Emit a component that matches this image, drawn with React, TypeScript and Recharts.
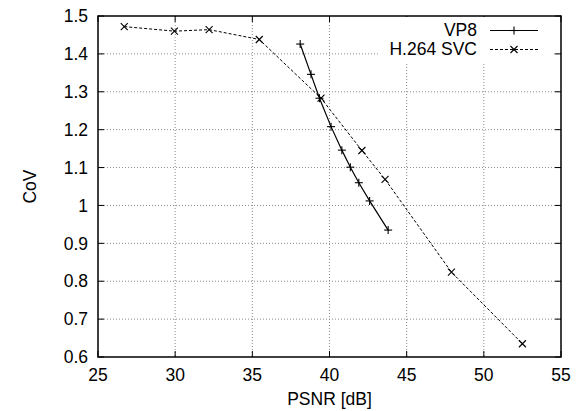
import { Line, LineChart, XAxis, YAxis } from 'recharts';

const vp8Psnr = [38.1, 38.8, 39.35, 40.1, 40.8, 41.35, 41.9, 42.6, 43.8];
const vp8Cov = [1.426, 1.346, 1.283, 1.208, 1.146, 1.101, 1.06, 1.012, 0.935];
const svcPsnr = [26.7, 29.95, 32.2, 35.45, 39.45, 42.1, 43.6, 47.9, 52.5];
const svcCov = [1.472, 1.46, 1.464, 1.438, 1.283, 1.145, 1.069, 0.824, 0.635];
const xTicks = [25, 30, 35, 40, 45, 50, 55];
const yTicks = [0.6, 0.7, 0.8, 0.9, 1, 1.1, 1.2, 1.3, 1.4, 1.5];
const xDomain = [25, 55];
const yDomain = [0.6, 1.5];

const vp8 = vp8Psnr.map((x, i) => ({ x, y: vp8Cov[i] }));
const svc = svcPsnr.map((x, i) => ({ x, y: svcCov[i] }));

const FONT = '"Liberation Sans", Arial, sans-serif';
const FS = 17.5;
const W = 585;
const H = 411;
const M = { top: 16, right: 24, bottom: 0, left: 0 };
const Y_W = 98;
const X_H = 54;
const PLOT_L = M.left + Y_W;
const PLOT_R = W - M.right;
const PLOT_T = M.top;
const PLOT_B = H - X_H;
const TICK = 6;

// same linear mapping the chart uses for its plot area (frame/grid layer only)
const sx = (v: number) => PLOT_L + ((v - xDomain[0]) / (xDomain[1] - xDomain[0])) * (PLOT_R - PLOT_L);
const sy = (v: number) => PLOT_B - ((v - yDomain[0]) / (yDomain[1] - yDomain[0])) * (PLOT_B - PLOT_T);

function PlusDot({ cx, cy }: any) {
  if (cx == null || cy == null) return null;
  return (
    <g stroke="#000" strokeWidth={1.1}>
      <line x1={cx - 4} y1={cy} x2={cx + 4} y2={cy} />
      <line x1={cx} y1={cy - 4} x2={cx} y2={cy + 4} />
    </g>
  );
}

function CrossDot({ cx, cy }: any) {
  if (cx == null || cy == null) return null;
  return (
    <g stroke="#000" strokeWidth={1.1}>
      <line x1={cx - 3.5} y1={cy - 3.5} x2={cx + 3.5} y2={cy + 3.5} />
      <line x1={cx - 3.5} y1={cy + 3.5} x2={cx + 3.5} y2={cy - 3.5} />
    </g>
  );
}

// dotted grid, border and inward ticks, drawn underneath the chart svg
function Frame() {
  return (
    <svg width={W} height={H} style={{ position: 'absolute', left: 0, top: 0 }}>
      {xTicks.slice(1, -1).map((v) => (
        <line key={'gx' + v} x1={sx(v)} y1={PLOT_T} x2={sx(v)} y2={PLOT_B} stroke="#8a8a8a" strokeDasharray="1 2" />
      ))}
      {yTicks.slice(1, -1).map((v) => (
        <line key={'gy' + v} x1={PLOT_L} y1={sy(v)} x2={PLOT_R} y2={sy(v)} stroke="#8a8a8a" strokeDasharray="1 2" />
      ))}
      <g stroke="#000">
        {xTicks.map((v) => (
          <g key={'tx' + v}>
            <line x1={sx(v)} y1={PLOT_B} x2={sx(v)} y2={PLOT_B - TICK} />
            <line x1={sx(v)} y1={PLOT_T} x2={sx(v)} y2={PLOT_T + TICK} />
          </g>
        ))}
        {yTicks.map((v) => (
          <g key={'ty' + v}>
            <line x1={PLOT_L} y1={sy(v)} x2={PLOT_L + TICK} y2={sy(v)} />
            <line x1={PLOT_R} y1={sy(v)} x2={PLOT_R - TICK} y2={sy(v)} />
          </g>
        ))}
      </g>
      <rect x={PLOT_L} y={PLOT_T} width={PLOT_R - PLOT_L} height={PLOT_B - PLOT_T} fill="none" stroke="#000" strokeWidth={1.5} />
    </svg>
  );
}

function LegendBox() {
  const row = (name: string, dash: string | undefined, Dot: any) => (
    <div style={{ display: 'flex', alignItems: 'center', height: 19 }}>
      <span style={{ width: 97, textAlign: 'right', fontSize: FS, lineHeight: '19px' }}>{name}</span>
      <svg width={48} height={19} style={{ marginLeft: 13 }}>
        <line x1={0} y1={9.5} x2={48} y2={9.5} stroke="#000" strokeWidth={1} strokeDasharray={dash} />
        <Dot cx={24} cy={9.5} />
      </svg>
    </div>
  );
  return (
    <div
      style={{
        position: 'absolute',
        left: 380,
        top: 17,
        background: '#fff',
        padding: '4px 0 4px 0',
        width: 172,
        fontFamily: FONT,
        color: '#000',
      }}
    >
      {row('VP8', undefined, PlusDot)}
      {row('H.264 SVC', '3 2', CrossDot)}
    </div>
  );
}

export default function App() {
  return (
    <div style={{ position: 'absolute', left: 0, top: 0, width: W, height: H, background: '#fff' }}>
      <Frame />
      <LineChart width={W} height={H} margin={M}>
        <XAxis
          xAxisId="b"
          type="number"
          dataKey="x"
          domain={xDomain}
          ticks={xTicks}
          height={X_H}
          tickSize={0}
          tickMargin={12}
          axisLine={false}
          tickLine={false}
          tick={{ fill: '#000', fontSize: FS, fontFamily: FONT }}
          label={{ value: 'PSNR [dB]', position: 'insideBottom', offset: 6, fill: '#000', fontSize: FS, fontFamily: FONT }}
        />
        <YAxis
          yAxisId="l"
          type="number"
          domain={yDomain}
          ticks={yTicks}
          width={Y_W}
          tickSize={0}
          tickMargin={10}
          axisLine={false}
          tickLine={false}
          tick={{ fill: '#000', fontSize: FS, fontFamily: FONT }}
          label={{
            value: 'CoV',
            angle: -90,
            position: 'insideLeft',
            offset: 30,
            textAnchor: 'middle',
            fill: '#000',
            fontSize: FS,
            fontFamily: FONT,
          }}
        />
        <Line
          xAxisId="b"
          yAxisId="l"
          data={svc}
          dataKey="y"
          name="H.264 SVC"
          stroke="#000"
          strokeWidth={1}
          strokeDasharray="3 2"
          dot={<CrossDot />}
          isAnimationActive={false}
        />
        <Line
          xAxisId="b"
          yAxisId="l"
          data={vp8}
          dataKey="y"
          name="VP8"
          stroke="#000"
          strokeWidth={1.2}
          dot={<PlusDot />}
          isAnimationActive={false}
        />
      </LineChart>
      <LegendBox />
    </div>
  );
}
